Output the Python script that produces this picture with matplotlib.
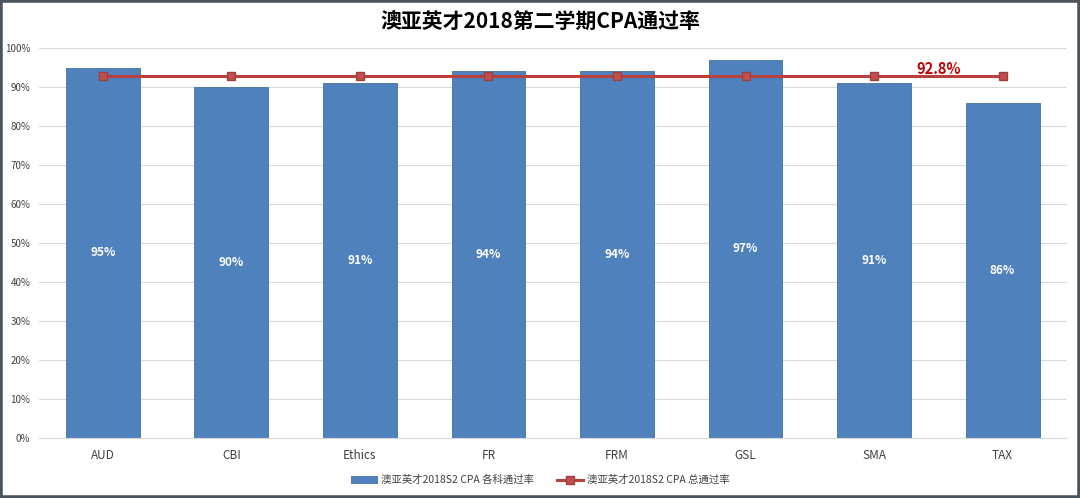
import matplotlib.pyplot as plt
import matplotlib.patches as mpatches
import numpy as np

plt.rcParams['font.family'] = ['Noto Sans CJK SC', 'DejaVu Sans']

subjects = ['AUD', 'CBI', 'Ethics', 'FR', 'FRM', 'GSL', 'SMA', 'TAX']
pass_rate = [95, 90, 91, 94, 94, 97, 91, 86]
overall = 92.8
ytick_vals = [0, 10, 20, 30, 40, 50, 60, 70, 80, 90, 100]

bar_color = '#4F81BD'
line_color = '#B8403D'

fig = plt.figure(figsize=(10.8, 4.98), dpi=100)
ax = fig.add_axes([0.0358, 0.1205, 0.952, 0.783])

x = np.arange(len(subjects))
bars = ax.bar(x, pass_rate, width=0.575, color=bar_color, edgecolor='#41719C', linewidth=0.6,
              label='澳亚英才2018S2 CPA 各科通过率', zorder=2)
line, = ax.plot(x, [overall] * len(x), color=line_color, linewidth=2.2, marker='s', markersize=5.5,
                markerfacecolor='#C0504D', markeredgecolor='#A0403D',
                label='澳亚英才2018S2 CPA 总通过率', zorder=3)

for xi, v in zip(x, pass_rate):
    ax.text(xi, v / 2, f'{v}%', ha='center', va='center', color='white',
            fontsize=8.5, fontweight='bold')

ax.text(6.5, overall + 1.8, f'{overall}%', ha='center', va='center', color='#C00000',
        fontsize=10.5, fontweight='bold')

ax.set_xlim(-0.5, len(subjects) - 0.5)
ax.set_ylim(0, 100)
ax.set_yticks(ytick_vals)
ax.set_yticklabels([f'{v}%' for v in ytick_vals], fontsize=7, color='#404040')
ax.set_xticks(x)
ax.set_xticklabels(subjects, fontsize=8.5, color='#404040')
ax.tick_params(axis='both', length=0, pad=8)
ax.tick_params(axis='y', pad=6)
ax.grid(axis='y', color='#D9D9D9', linewidth=0.8, zorder=0)
ax.set_axisbelow(True)
for s in ['top', 'right', 'left']:
    ax.spines[s].set_visible(False)
ax.spines['bottom'].set_color('#D9D9D9')

fig.text(0.5, 0.958, '澳亚英才2018第二学期CPA通过率', ha='center', va='center',
         fontsize=15, fontweight='bold', color='black')

fig.legend(handles=[bars, line], loc='center', bbox_to_anchor=(0.5, 0.036), ncol=2,
           frameon=False, fontsize=7.5, handlelength=2.5, handletextpad=0.4,
           columnspacing=2.2, labelcolor='#404040')

fig.patches.append(mpatches.Rectangle((0, 0), 1, 1, transform=fig.transFigure, fill=False,
                                      edgecolor='#4A545E', linewidth=4))

fig.savefig('out.png', dpi=100)
